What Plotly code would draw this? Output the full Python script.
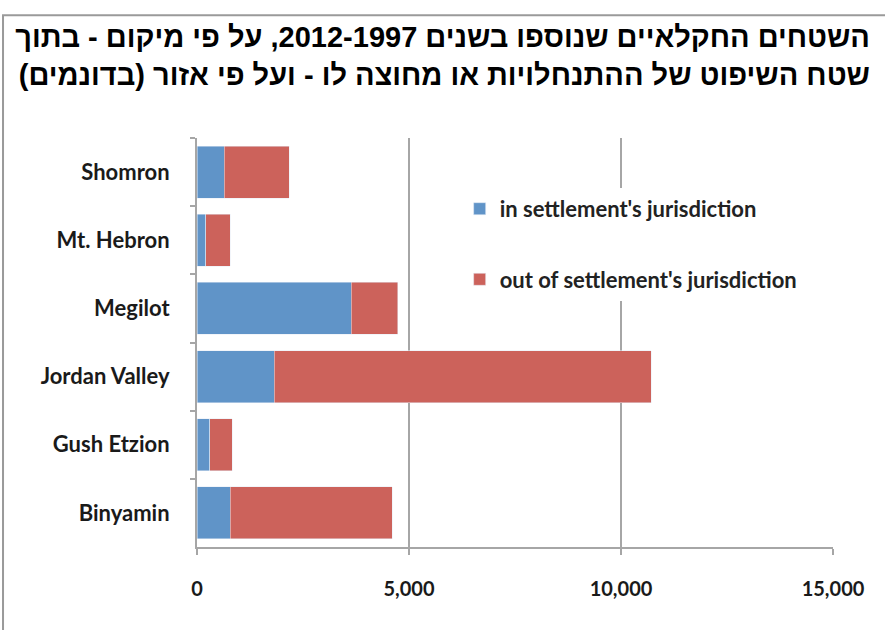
import plotly.graph_objects as go

regions = ["Shomron", "Mt. Hebron", "Megilot", "Jordan Valley", "Gush Etzion", "Binyamin"]
inside = [640, 210, 3640, 1820, 300, 780]
outside = [1535, 570, 1090, 8890, 530, 3830]
x_ticks = [0, 5000, 10000, 15000]
x_tick_text = ["0", "5,000", "10,000", "15,000"]

title_lines = [
    "השטחים החקלאיים שנוספו בשנים 2012-1997, על פי מיקום - בתוך",
    "שטח השיפוט של ההתנחלויות או מחוצה לו - ועל פי אזור (בדונמים)",
]
# RTL embedding per line so the words run right to left
title_text = "<br>".join("\u202b" + t + "\u202c" for t in title_lines)

fig = go.Figure()
fig.add_trace(go.Bar(
    y=regions, x=inside, orientation="h",
    name="in settlement's jurisdiction",
    marker=dict(color="#6094C8"),
    legendgroup="a",
))
fig.add_trace(go.Bar(
    y=regions, x=outside, orientation="h",
    name="out of settlement's jurisdiction",
    marker=dict(color="#CC625B"),
    legendgroup="b",
))

fig.update_layout(
    width=885, height=630,
    barmode="stack",
    bargap=0.235,
    paper_bgcolor="white",
    plot_bgcolor="white",
    margin=dict(l=197, r=52, t=138, b=83),
    title=dict(
        text=title_text,
        x=0.983, xanchor="right",
        y=0.925, yanchor="top",
        font=dict(family="Liberation Sans", size=29, color="black", weight="bold"),
    ),
    legend=dict(
        x=0.413, xanchor="left",
        y=0.878, yanchor="top",
        bgcolor="white",
        traceorder="grouped",
        tracegroupgap=39,
        font=dict(family="Lato", size=22, color="#222222", weight="bold"),
    ),
    shapes=[dict(
        type="rect", xref="paper", yref="paper",
        x0=-0.305, x1=1.2, y0=-0.3, y1=1.3,
        line=dict(color="#9a9a9a", width=2),
    )],
)

fig.update_xaxes(
    range=[0, 15000],
    tickvals=x_ticks, ticktext=x_tick_text,
    showgrid=True, gridcolor="#a6a6a6", gridwidth=2,
    zeroline=False,
    showline=True, linecolor="#a6a6a6", linewidth=2,
    ticks="outside", ticklen=6, tickcolor="#a6a6a6", tickwidth=2,
    ticklabelstandoff=17,
    tickfont=dict(family="Lato", size=20, color="#1a1a1a", weight="bold"),
)
fig.update_yaxes(
    autorange="reversed",
    showgrid=False,
    showline=True, linecolor="#a6a6a6", linewidth=2,
    ticks="outside", ticklen=5, tickcolor="#a6a6a6", tickwidth=2,
    tickson="boundaries",
    ticklabelstandoff=21,
    tickfont=dict(family="Lato", size=22, color="#1a1a1a", weight="bold"),
)

# drop the default body margin so the figure sits at the window corner
fig.write_html(
    "out.html",
    config={"displayModeBar": False},
    post_script="document.body.style.margin='0';",
)
